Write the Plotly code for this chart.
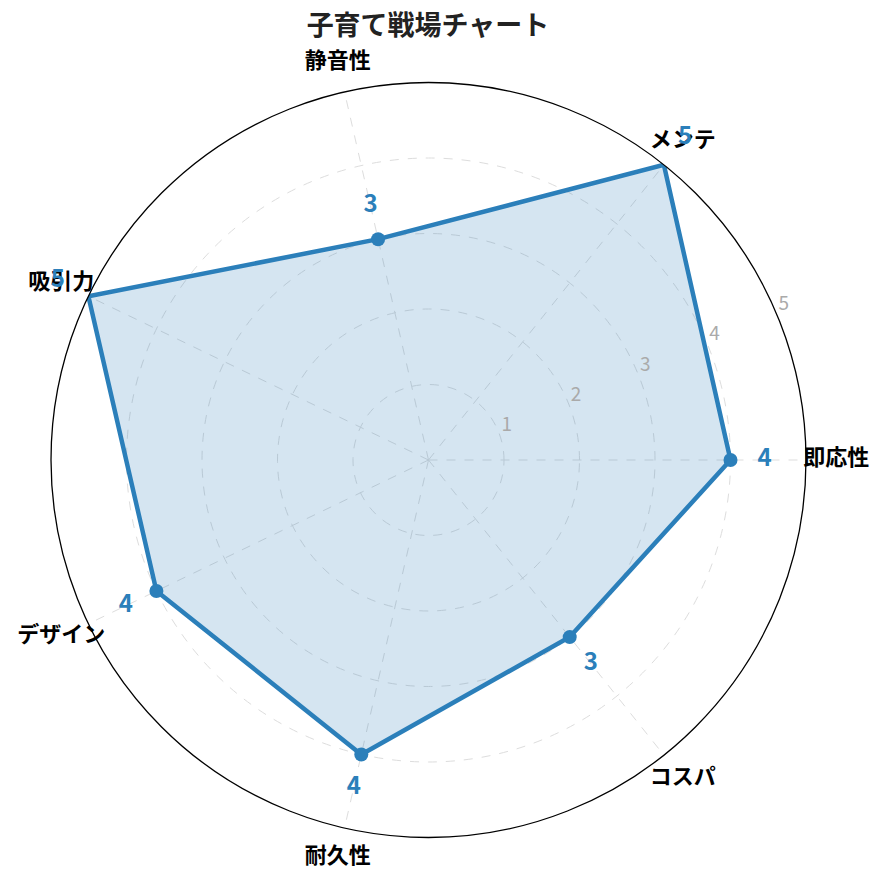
import plotly.graph_objects as go

categories = ["即応性", "メンテ", "静音性", "吸引力", "デザイン", "耐久性", "コスパ"]
values = [4, 5, 3, 5, 4, 4, 3]
radial_ticks = [1, 2, 3, 4, 5]
r_max = 5
label_offset = 0.45
category_label_r = 5.4
overlay_r_max = 5.55
tick_label_angle = 23.5
tick_label_offset = 0.13

LINE = "#2b7fba"
FONT = "Noto Sans CJK JP, sans-serif"

W = H = 883
CX, CY = 427.5 - 7, 459 - 7   # polar centre (px, from top-left), corrected
RAD = 377.5                   # outer circle radius in px
px_per_unit = RAD / r_max


def domain(radius):
    return dict(x=[max(0, (CX - radius) / W), min(1, (CX + radius) / W)],
                y=[max(0, 1 - (CY + radius) / H), min(1, 1 - (CY - radius) / H)])


theta_closed = categories + [categories[0]]
r_closed = values + [values[0]]

fig = go.Figure()
fig.add_trace(go.Scatterpolar(
    r=r_closed, theta=theta_closed, mode="lines",
    fill="toself", fillcolor="rgba(43,127,186,0.2)",
    line=dict(color=LINE, width=4.5),
    hoverinfo="skip", showlegend=False, subplot="polar",
))
# markers (points on the outer edge are clipped away in the reference)
fig.add_trace(go.Scatterpolar(
    r=values, theta=categories, mode="markers",
    marker=dict(size=[14 if v < r_max else 0 for v in values], color=LINE,
                opacity=1, line=dict(width=0)),
    hoverinfo="skip", showlegend=False, subplot="polar",
))
# category labels (overlay polar with same scale, larger range)
fig.add_trace(go.Scatterpolar(
    r=[category_label_r] * len(categories), theta=categories, mode="text",
    text=categories,
    textfont=dict(family=FONT, size=22, color="black", weight="bold"),
    hoverinfo="skip", showlegend=False, subplot="polar2",
))
fig.add_trace(go.Scatterpolar(
    r=[v + label_offset for v in values], theta=categories, mode="text",
    text=[str(v) for v in values],
    textfont=dict(family=FONT, size=24, color=LINE, weight="bold"),
    hoverinfo="skip", showlegend=False, subplot="polar2",
))
# radial tick labels
fig.add_trace(go.Scatterpolar(
    r=[t + tick_label_offset for t in radial_ticks],
    theta=[tick_label_angle] * len(radial_ticks), mode="text",
    text=[str(t) for t in radial_ticks],
    textfont=dict(family=FONT, size=19, color="#aaaaaa"),
    hoverinfo="skip", showlegend=False, subplot="polar3",
))

fig.update_layout(
    width=W, height=H,
    margin=dict(l=0, r=0, t=0, b=0),
    paper_bgcolor="white",
    font=dict(family=FONT),
    title=dict(text="<b>子育て戦場チャート</b>", x=420 / W, xanchor="center",
               y=1 - 18 / H, yanchor="middle",
               font=dict(family=FONT, size=27, color="#222222")),
    polar=dict(
        domain=domain(RAD),
        bgcolor="white",
        angularaxis=dict(
            direction="counterclockwise", rotation=0,
            showline=True, linecolor="black", linewidth=1.3,
            gridcolor="#dddddd", griddash="dash", gridwidth=1,
            ticks="", showticklabels=False,
        ),
        radialaxis=dict(
            range=[0, r_max], tickvals=radial_ticks,
            showticklabels=False, showline=False, ticks="",
            gridcolor="#dddddd", griddash="dash", gridwidth=1,
        ),
    ),
    polar2=dict(
        domain=domain(px_per_unit * overlay_r_max),
        bgcolor="rgba(0,0,0,0)",
        angularaxis=dict(direction="counterclockwise", rotation=0,
                         showline=False, showgrid=False, showticklabels=False, ticks=""),
        radialaxis=dict(range=[0, overlay_r_max], showline=False, showgrid=False,
                        showticklabels=False, ticks=""),
    ),
    polar3=dict(
        domain=domain(px_per_unit * overlay_r_max),
        bgcolor="rgba(0,0,0,0)",
        angularaxis=dict(type="linear", thetaunit="degrees",
                         direction="counterclockwise", rotation=0,
                         showline=False, showgrid=False, showticklabels=False, ticks=""),
        radialaxis=dict(range=[0, overlay_r_max], showline=False, showgrid=False,
                        showticklabels=False, ticks=""),
    ),
)

fig.write_html("out.html")
